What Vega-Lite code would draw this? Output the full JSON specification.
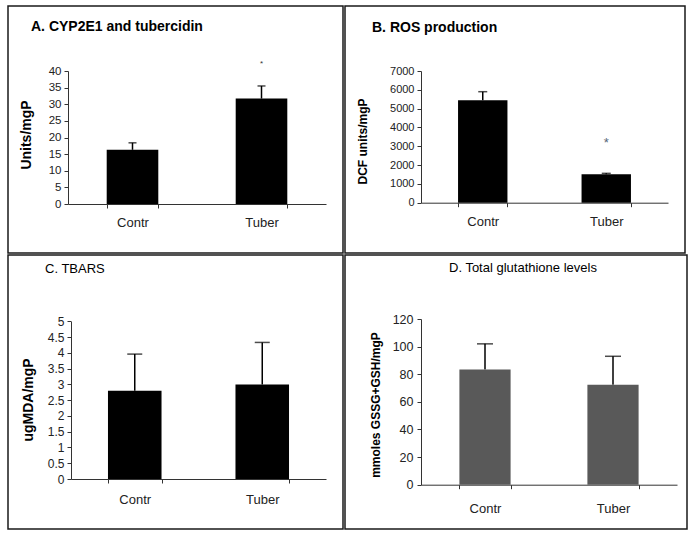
{
  "$schema": "https://vega.github.io/schema/vega-lite/v6.json",
  "padding": {"left": 7, "top": 5, "right": 0, "bottom": 0},
  "background": "white",
  "config": {
    "font": "Liberation Sans",
    "view": {"stroke": "#1a1a1a", "strokeWidth": 1.5},
    "axis": {"grid": false, "domainColor": "#333", "tickColor": "#333", "tickSize": 4, "domainWidth": 1, "labelColor": "#222", "titleColor": "#000"},
    "concat": {"spacing": 0}
  },
  "spacing": 0,
  "vconcat": [
    {
      "spacing": 0,
      "hconcat": [
        {
          "width": 335, "height": 247,
          "title": {"text": "A. CYP2E1 and tubercidin", "anchor": "start", "frame": "group", "offset": -35, "dx": 23, "baseline": "middle", "fontSize": 14, "fontWeight": "bold", "color": "#000"},
          "data": {"values": [
            {"group": "Contr", "mean": 16.3, "upper": 18.4, "sig": ""},
            {"group": "Tuber", "mean": 31.7, "upper": 35.5, "sig": "*"}
          ]},
          "encoding": {
            "x": {"field": "group", "type": "nominal", "sort": null,
              "scale": {"range": [60, 318], "paddingInner": 0.6, "paddingOuter": 0.3},
              "axis": {"title": null, "labelAngle": 0, "offset": -49, "tickBand": "extent", "labelFontSize": 13, "labelPadding": 8}}
          },
          "layer": [
            {"mark": {"type": "rule", "color": "#000", "strokeWidth": 1.5},
             "encoding": {"y": {"field": "mean", "type": "quantitative", "scale": {"domain": [0, 40], "range": [198, 65], "nice": false, "zero": true},
               "axis": {"title": "Units/mgP", "values": [0, 5, 10, 15, 20, 25, 30, 35, 40], "format": "~r", "offset": -60, "labelFontSize": 11.5, "labelPadding": 3, "titleFontSize": 14, "titleFontWeight": "bold", "titleX": -42, "titleY": 128.5, "titleBaseline": "middle"}}, "y2": {"field": "upper"}}},
            {"mark": {"type": "tick", "color": "#000", "thickness": 1.5, "size": 8},
             "encoding": {"y": {"field": "upper", "type": "quantitative", "scale": {"domain": [0, 40], "range": [198, 65], "nice": false, "zero": true},
               "axis": {"title": "Units/mgP", "values": [0, 5, 10, 15, 20, 25, 30, 35, 40], "format": "~r", "offset": -60, "labelFontSize": 11.5, "labelPadding": 3, "titleFontSize": 14, "titleFontWeight": "bold", "titleX": -42, "titleY": 128.5, "titleBaseline": "middle"}}}},
            {"mark": {"type": "bar", "color": "#000"},
             "encoding": {"y": {"field": "mean", "type": "quantitative", "scale": {"domain": [0, 40], "range": [198, 65], "nice": false, "zero": true},
               "axis": {"title": "Units/mgP", "values": [0, 5, 10, 15, 20, 25, 30, 35, 40], "format": "~r", "offset": -60, "labelFontSize": 11.5, "labelPadding": 3, "titleFontSize": 14, "titleFontWeight": "bold", "titleX": -42, "titleY": 128.5, "titleBaseline": "middle"}}}},
            {"mark": {"type": "text", "dy": -22, "fontSize": 8, "color": "#333"},
             "encoding": {"y": {"field": "upper", "type": "quantitative", "scale": {"domain": [0, 40], "range": [198, 65], "nice": false, "zero": true},
               "axis": {"title": "Units/mgP", "values": [0, 5, 10, 15, 20, 25, 30, 35, 40], "format": "~r", "offset": -60, "labelFontSize": 11.5, "labelPadding": 3, "titleFontSize": 14, "titleFontWeight": "bold", "titleX": -42, "titleY": 128.5, "titleBaseline": "middle"}}, "text": {"field": "sig"}}}
          ]
        },
        {
          "width": 340, "height": 247,
          "title": {"text": "B. ROS production", "anchor": "start", "frame": "group", "offset": -36, "dx": 27, "baseline": "middle", "fontSize": 14, "fontWeight": "bold", "color": "#000"},
          "data": {"values": [
            {"group": "Contr", "mean": 5450, "upper": 5900, "sig": ""},
            {"group": "Tuber", "mean": 1510, "upper": 1560, "sig": "*"}
          ]},
          "encoding": {
            "x": {"field": "group", "type": "nominal", "sort": null,
              "scale": {"range": [76, 323], "paddingInner": 0.6, "paddingOuter": 0.3},
              "axis": {"title": null, "labelAngle": 0, "offset": -50.3, "tickBand": "extent", "labelFontSize": 13, "labelPadding": 9}}
          },
          "layer": [
            {"mark": {"type": "rule", "color": "#000", "strokeWidth": 1.5},
             "encoding": {"y": {"field": "mean", "type": "quantitative", "scale": {"domain": [0, 7000], "range": [196.7, 65], "nice": false, "zero": true},
               "axis": {"title": "DCF units/mgP", "values": [0, 1000, 2000, 3000, 4000, 5000, 6000, 7000], "format": "~r", "offset": -76, "labelFontSize": 11, "labelPadding": 3, "titleFontSize": 12, "titleFontWeight": "bold", "titleX": -59, "titleY": 135, "titleBaseline": "middle"}}, "y2": {"field": "upper"}}},
            {"mark": {"type": "tick", "color": "#000", "thickness": 1.5, "size": 9},
             "encoding": {"y": {"field": "upper", "type": "quantitative", "scale": {"domain": [0, 7000], "range": [196.7, 65], "nice": false, "zero": true},
               "axis": {"title": "DCF units/mgP", "values": [0, 1000, 2000, 3000, 4000, 5000, 6000, 7000], "format": "~r", "offset": -76, "labelFontSize": 11, "labelPadding": 3, "titleFontSize": 12, "titleFontWeight": "bold", "titleX": -59, "titleY": 135, "titleBaseline": "middle"}}}},
            {"mark": {"type": "bar", "color": "#000"},
             "encoding": {"y": {"field": "mean", "type": "quantitative", "scale": {"domain": [0, 7000], "range": [196.7, 65], "nice": false, "zero": true},
               "axis": {"title": "DCF units/mgP", "values": [0, 1000, 2000, 3000, 4000, 5000, 6000, 7000], "format": "~r", "offset": -76, "labelFontSize": 11, "labelPadding": 3, "titleFontSize": 12, "titleFontWeight": "bold", "titleX": -59, "titleY": 135, "titleBaseline": "middle"}}}},
            {"mark": {"type": "text", "dy": -30, "fontSize": 13, "color": "#556677"},
             "encoding": {"y": {"field": "upper", "type": "quantitative", "scale": {"domain": [0, 7000], "range": [196.7, 65], "nice": false, "zero": true},
               "axis": {"title": "DCF units/mgP", "values": [0, 1000, 2000, 3000, 4000, 5000, 6000, 7000], "format": "~r", "offset": -76, "labelFontSize": 11, "labelPadding": 3, "titleFontSize": 12, "titleFontWeight": "bold", "titleX": -59, "titleY": 135, "titleBaseline": "middle"}}, "text": {"field": "sig"}}}
          ]
        }
      ]
    },
    {
      "spacing": 0,
      "hconcat": [
        {
          "width": 335, "height": 274,
          "title": {"text": "C. TBARS", "anchor": "start", "frame": "group", "offset": -27, "dx": 37, "baseline": "middle", "fontSize": 13, "fontWeight": "normal", "color": "#000"},
          "data": {"values": [
            {"group": "Contr", "mean": 2.8, "upper": 3.96},
            {"group": "Tuber", "mean": 3.0, "upper": 4.33}
          ]},
          "encoding": {
            "x": {"field": "group", "type": "nominal", "sort": null,
              "scale": {"range": [63, 318], "paddingInner": 0.58, "paddingOuter": 0.29},
              "axis": {"title": null, "labelAngle": 0, "offset": -50, "tickBand": "extent", "labelFontSize": 13, "labelPadding": 10}}
          },
          "layer": [
            {"mark": {"type": "rule", "color": "#000", "strokeWidth": 1.5},
             "encoding": {"y": {"field": "mean", "type": "quantitative", "scale": {"domain": [0, 5], "range": [224, 66.3], "nice": false, "zero": true},
               "axis": {"title": "ugMDA/mgP", "values": [0, 0.5, 1, 1.5, 2, 2.5, 3, 3.5, 4, 4.5, 5], "format": "~r", "offset": -63, "labelFontSize": 12, "labelPadding": 3, "titleFontSize": 14, "titleFontWeight": "bold", "titleX": -43, "titleY": 144.5, "titleBaseline": "middle"}}, "y2": {"field": "upper"}}},
            {"mark": {"type": "tick", "color": "#000", "thickness": 1.5, "size": 15},
             "encoding": {"y": {"field": "upper", "type": "quantitative", "scale": {"domain": [0, 5], "range": [224, 66.3], "nice": false, "zero": true},
               "axis": {"title": "ugMDA/mgP", "values": [0, 0.5, 1, 1.5, 2, 2.5, 3, 3.5, 4, 4.5, 5], "format": "~r", "offset": -63, "labelFontSize": 12, "labelPadding": 3, "titleFontSize": 14, "titleFontWeight": "bold", "titleX": -43, "titleY": 144.5, "titleBaseline": "middle"}}}},
            {"mark": {"type": "bar", "color": "#000"},
             "encoding": {"y": {"field": "mean", "type": "quantitative", "scale": {"domain": [0, 5], "range": [224, 66.3], "nice": false, "zero": true},
               "axis": {"title": "ugMDA/mgP", "values": [0, 0.5, 1, 1.5, 2, 2.5, 3, 3.5, 4, 4.5, 5], "format": "~r", "offset": -63, "labelFontSize": 12, "labelPadding": 3, "titleFontSize": 14, "titleFontWeight": "bold", "titleX": -43, "titleY": 144.5, "titleBaseline": "middle"}}}}
          ]
        },
        {
          "width": 342, "height": 274,
          "title": {"text": "D. Total glutathione levels", "anchor": "start", "frame": "group", "offset": -26, "dx": 104, "baseline": "middle", "fontSize": 13, "fontWeight": "normal", "color": "#000"},
          "data": {"values": [
            {"group": "Contr", "mean": 83.5, "upper": 102},
            {"group": "Tuber", "mean": 72.4, "upper": 93}
          ]},
          "encoding": {
            "x": {"field": "group", "type": "nominal", "sort": null,
              "scale": {"range": [76, 332], "paddingInner": 0.6, "paddingOuter": 0.3},
              "axis": {"title": null, "labelAngle": 0, "offset": -44.3, "tickBand": "extent", "labelFontSize": 13, "labelPadding": 14}}
          },
          "layer": [
            {"mark": {"type": "rule", "color": "#000", "strokeWidth": 1.5},
             "encoding": {"y": {"field": "mean", "type": "quantitative", "scale": {"domain": [0, 120], "range": [229.7, 64], "nice": false, "zero": true},
               "axis": {"title": "mmoles GSSG+GSH/mgP", "values": [0, 20, 40, 60, 80, 100, 120], "format": "~r", "offset": -76, "labelFontSize": 12.5, "labelPadding": 4, "titleFontSize": 12, "titleFontWeight": "bold", "titleX": -46, "titleY": 149.5, "titleBaseline": "middle"}}, "y2": {"field": "upper"}}},
            {"mark": {"type": "tick", "color": "#000", "thickness": 1.5, "size": 16},
             "encoding": {"y": {"field": "upper", "type": "quantitative", "scale": {"domain": [0, 120], "range": [229.7, 64], "nice": false, "zero": true},
               "axis": {"title": "mmoles GSSG+GSH/mgP", "values": [0, 20, 40, 60, 80, 100, 120], "format": "~r", "offset": -76, "labelFontSize": 12.5, "labelPadding": 4, "titleFontSize": 12, "titleFontWeight": "bold", "titleX": -46, "titleY": 149.5, "titleBaseline": "middle"}}}},
            {"mark": {"type": "bar", "color": "#595959"},
             "encoding": {"y": {"field": "mean", "type": "quantitative", "scale": {"domain": [0, 120], "range": [229.7, 64], "nice": false, "zero": true},
               "axis": {"title": "mmoles GSSG+GSH/mgP", "values": [0, 20, 40, 60, 80, 100, 120], "format": "~r", "offset": -76, "labelFontSize": 12.5, "labelPadding": 4, "titleFontSize": 12, "titleFontWeight": "bold", "titleX": -46, "titleY": 149.5, "titleBaseline": "middle"}}}}
          ]
        }
      ]
    }
  ]
}
